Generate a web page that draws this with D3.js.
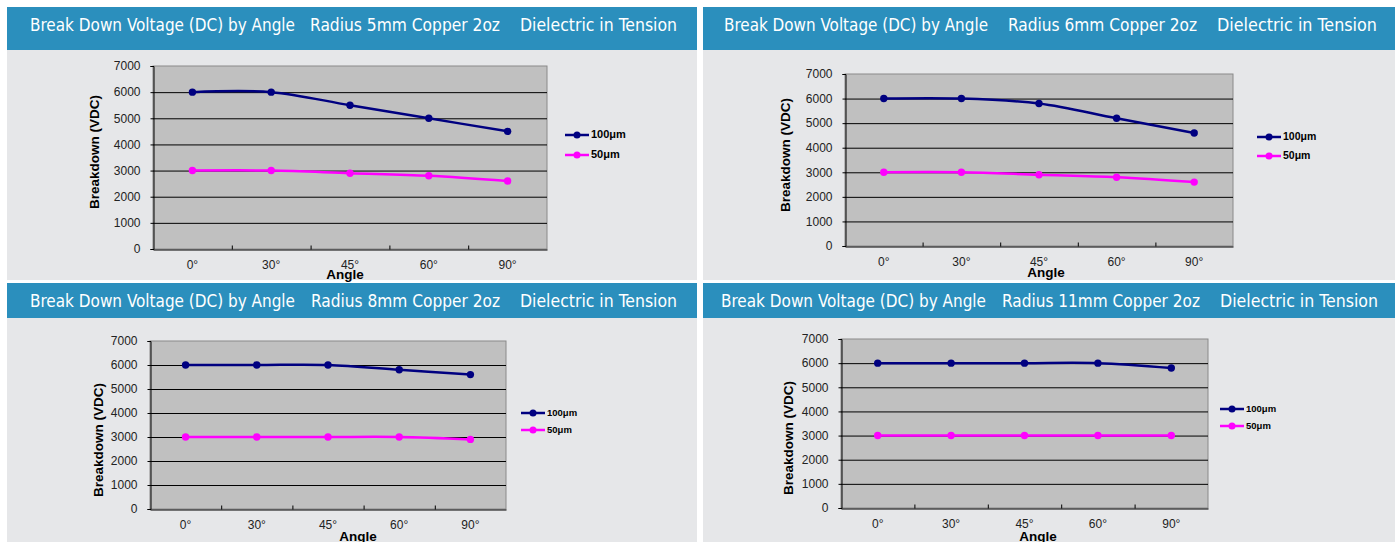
<!DOCTYPE html>
<html>
<head>
<meta charset="utf-8">
<script src="https://cdn.jsdelivr.net/npm/d3@7"></script>
<style>
  body { margin: 0; background: #fff; }
  svg { display: block; }
</style>
</head>
<body>
<div id="chart"></div>
<script>
// data
const angles = ["0°", "30°", "45°", "60°", "90°"];
const radii = ["5mm", "6mm", "8mm", "11mm"];
const seriesNames = ["100μm", "50μm"];
const v100 = [
  [6000, 6000, 5500, 5000, 4500],
  [6000, 6000, 5800, 5200, 4600],
  [6000, 6000, 6000, 5800, 5600],
  [6000, 6000, 6000, 6000, 5800]
];
const v50 = [
  [3000, 3000, 2900, 2800, 2600],
  [3000, 3000, 2900, 2800, 2600],
  [3000, 3000, 3000, 3000, 2900],
  [3000, 3000, 3000, 3000, 3000]
];
const yTicks = [0, 1000, 2000, 3000, 4000, 5000, 6000, 7000];
const titleParts = ["Break Down Voltage (DC) by Angle", "Copper 2oz", "Dielectric in Tension"];

// layout of the four panels
const panels = [
  { bx: 7, by: 7, bw: 690, hh: 43, bh: 273, px: 153, pt: 66, pb: 249, pr: 547,
    tx: [30, 310, 520], tw: [265, 190, 157], ty: 31, ytx: 95, yty: 152, lx: 565, ly: 135, lgap: 20, lfs: 11, ax: 345, ay: 279 },
  { bx: 703, by: 7, bw: 692, hh: 43, bh: 273, px: 845, pt: 74, pb: 246, pr: 1233,
    tx: [724, 1008, 1217], tw: [264, 189, 160], ty: 31, ytx: 786, yty: 155, lx: 1257, ly: 137, lgap: 19, lfs: 10.5, ax: 1046, ay: 277 },
  { bx: 7, by: 283, bw: 690, hh: 35, bh: 262, px: 150, pt: 341, pb: 509, pr: 506,
    tx: [30, 311, 520], tw: [265, 189, 157], ty: 307, ytx: 99, yty: 440, lx: 521, ly: 413, lgap: 17, lfs: 9.5, ax: 358, ay: 541 },
  { bx: 703, by: 283, bw: 692, hh: 35, bh: 262, px: 841, pt: 339, pb: 508, pr: 1208,
    tx: [721, 1002, 1220], tw: [265, 198, 158], ty: 307, ytx: 789, yty: 438, lx: 1220, ly: 409, lgap: 17, lfs: 9.5, ax: 1038, ay: 541 }
];
const colors = ["#000080", "#ff00ff"];
const font = "'Liberation Sans', Arial, sans-serif";

const svg = d3.select("#chart").append("svg")
  .attr("width", 1400).attr("height", 542);

panels.forEach((p, k) => {
  const g = svg.append("g");
  // body and header
  g.append("rect").attr("x", p.bx).attr("y", p.by).attr("width", p.bw).attr("height", p.bh)
    .attr("fill", "#e6e7e9");
  g.append("rect").attr("x", p.bx).attr("y", p.by).attr("width", p.bw).attr("height", p.hh)
    .attr("fill", "#2b8fbd");
  const parts = [titleParts[0], "Radius " + radii[k] + " " + titleParts[1], titleParts[2]];
  parts.forEach((t, i) => {
    g.append("text").attr("x", p.tx[i]).attr("y", p.ty)
      .attr("fill", "#fff").attr("font-family", "'DejaVu Sans Condensed', 'Liberation Sans Narrow', sans-serif")
      .attr("font-size", 17)
      .attr("textLength", p.tw[i]).attr("lengthAdjust", "spacingAndGlyphs")
      .text(t);
  });

  const x = d3.scaleBand().domain(angles).range([p.px, p.pr]);
  const y = d3.scaleLinear().domain([0, 7000]).range([p.pb, p.pt]);

  // plot area
  g.append("rect").attr("x", p.px).attr("y", p.pt).attr("width", p.pr - p.px).attr("height", p.pb - p.pt)
    .attr("fill", "#c0c0c0").attr("stroke", "#8a8a8a").attr("stroke-width", 1);

  g.append("g").selectAll("line").data(yTicks.slice(1, -1)).join("line")
    .attr("x1", p.px).attr("x2", p.pr)
    .attr("y1", d => y(d) + 0.5).attr("y2", d => y(d) + 0.5)
    .attr("stroke", "#000").attr("stroke-width", 1);

  // y axis
  const ya = g.append("g").attr("transform", `translate(${p.px + 0.5},0)`)
    .call(d3.axisLeft(y).tickValues(yTicks).tickSize(3).tickPadding(10).tickFormat(d3.format("d")));
  ya.selectAll("text").attr("font-family", font).attr("font-size", 12).attr("fill", "#222");
  ya.select(".domain").attr("stroke", "#000");

  // x axis
  const xa = g.append("g").attr("transform", `translate(0,${p.pb + 0.5})`)
    .call(d3.axisBottom(x).tickSize(0).tickPadding(11));
  xa.selectAll("text").attr("font-family", font).attr("font-size", 12).attr("fill", "#222");
  xa.select(".domain").attr("stroke", "#000");
  // inner tick marks at band boundaries
  xa.append("g").selectAll("line").data(angles.slice(1)).join("line")
    .attr("x1", d => x(d) + 0.5).attr("x2", d => x(d) + 0.5)
    .attr("y1", 0).attr("y2", -4).attr("stroke", "#000");

  // axis titles
  g.append("text").attr("transform", `translate(${p.ytx},${p.yty}) rotate(-90)`)
    .attr("text-anchor", "middle").attr("dominant-baseline", "middle")
    .attr("font-family", font).attr("font-size", 13.5).attr("font-weight", "bold")
    .text("Breakdown (VDC)");
  g.append("text").attr("x", p.ax).attr("y", p.ay).attr("text-anchor", "middle")
    .attr("font-family", font).attr("font-size", 13.5).attr("font-weight", "bold")
    .text("Angle");

  // series
  const line = d3.line().x((d, i) => x(angles[i]) + x.bandwidth() / 2).y(d => y(d))
    .curve(d3.curveCatmullRom.alpha(0.5));
  [v100[k], v50[k]].forEach((vals, s) => {
    g.append("path").datum(vals).attr("d", line)
      .attr("fill", "none").attr("stroke", colors[s]).attr("stroke-width", 2.5);
    g.append("g").selectAll("circle").data(vals).join("circle")
      .attr("cx", (d, i) => x(angles[i]) + x.bandwidth() / 2).attr("cy", d => y(d))
      .attr("r", 3.7).attr("fill", colors[s]);

    // legend
    const ly = p.ly + s * p.lgap;
    g.append("line").attr("x1", p.lx).attr("x2", p.lx + 24).attr("y1", ly).attr("y2", ly)
      .attr("stroke", colors[s]).attr("stroke-width", 2.5);
    g.append("circle").attr("cx", p.lx + 12).attr("cy", ly).attr("r", 3.5).attr("fill", colors[s]);
    g.append("text").attr("x", p.lx + 26).attr("y", ly).attr("dominant-baseline", "middle")
      .attr("font-family", font).attr("font-size", p.lfs).attr("font-weight", "bold")
      .text(seriesNames[s]);
  });
});
</script>
</body>
</html>
